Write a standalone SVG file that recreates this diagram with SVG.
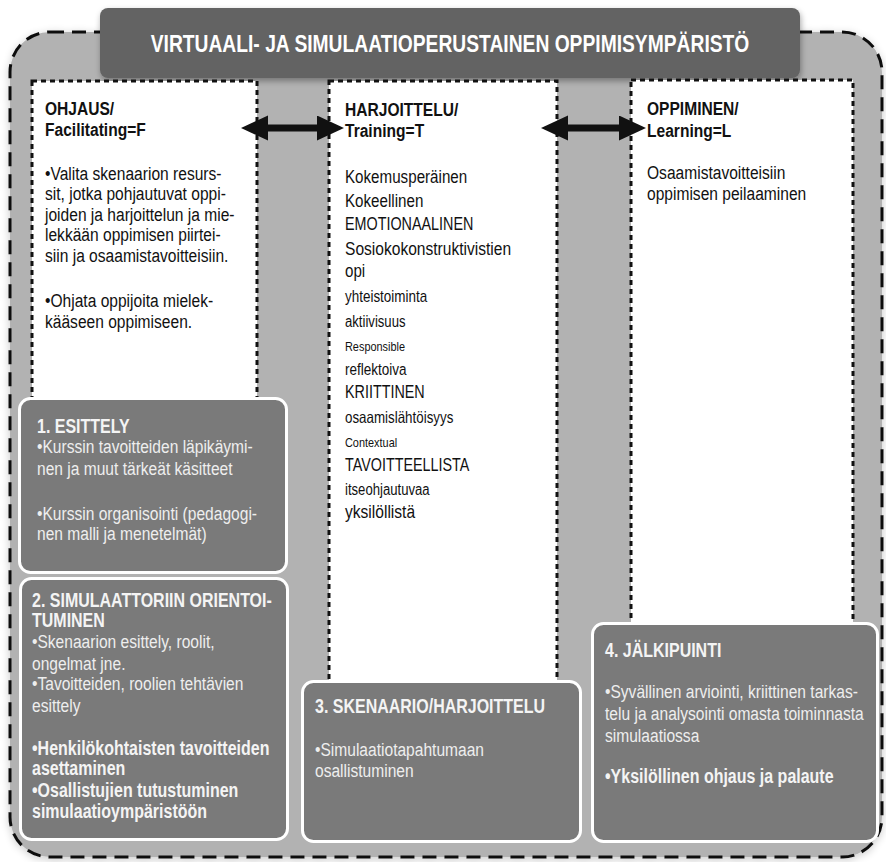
<svg xmlns="http://www.w3.org/2000/svg" width="886" height="862" viewBox="0 0 886 862">
<defs>
<style>
text{font-family:'Liberation Sans',Arial,sans-serif;}
.h{font-weight:bold;font-size:19px;fill:#111;}
.b{font-size:19px;fill:#111;}
.wh{font-weight:bold;font-size:19.5px;fill:#f4f4f4;}
.wb{font-size:19px;fill:#eeeeee;}
.col{fill:#ffffff;stroke:#111;stroke-width:3;stroke-dasharray:5 4;}
.step{fill:#7a7a7a;stroke:#ffffff;stroke-width:3;}
.arrow{stroke:#111;stroke-width:7;fill:none;marker-start:url(#ah);marker-end:url(#ah);}
</style>
<marker id="ah" markerUnits="userSpaceOnUse" markerWidth="28" markerHeight="26" refX="6" refY="12.5" orient="auto-start-reverse" viewBox="0 0 28 26">
<path d="M0,0 L27,12.5 L0,25 z" fill="#111"/>
</marker>
<filter id="sh" x="-10%" y="-20%" width="120%" height="150%">
<feGaussianBlur in="SourceAlpha" stdDeviation="3"/>
<feOffset dx="1" dy="3" result="o"/>
<feComponentTransfer><feFuncA type="linear" slope="0.35"/></feComponentTransfer>
<feMerge><feMergeNode/><feMergeNode in="SourceGraphic"/></feMerge>
</filter>
<filter id="sh2" x="-5%" y="-5%" width="110%" height="110%">
<feGaussianBlur in="SourceAlpha" stdDeviation="4"/>
<feOffset dx="0" dy="2" result="o"/>
<feComponentTransfer><feFuncA type="linear" slope="0.2"/></feComponentTransfer>
<feMerge><feMergeNode/><feMergeNode in="SourceGraphic"/></feMerge>
</filter>
</defs>
<rect width="886" height="862" fill="#ffffff"/>

<g id="frame">
<rect x="10" y="32" width="872" height="825" rx="40" fill="#b2b2b2" stroke="#111" stroke-width="3" stroke-dasharray="14 8" filter="url(#sh2)"/>
</g>

<g id="title">
<rect x="100" y="8" width="700" height="70" rx="8" fill="#636363" filter="url(#sh)"/>
<g transform="translate(450,0) scale(0.82,1)">
<text x="0" y="52" text-anchor="middle" style="font-weight:bold;font-size:23.5px;fill:#ffffff;">VIRTUAALI- JA SIMULAATIOPERUSTAINEN OPPIMISYMPÄRISTÖ</text>
</g>
</g>

<g id="col-ohjaus">
<rect class="col" x="32" y="81" width="225" height="340"/>
<g transform="translate(45,0) scale(0.82,1)">
<text class="h" x="0" y="115">OHJAUS/</text>
<text class="h" x="0" y="136">Facilitating=F</text>
<text class="b" x="0" y="180">•Valita skenaarion resurs-</text>
<text class="b" x="0" y="200.5">sit, jotka pohjautuvat oppi-</text>
<text class="b" x="0" y="221">joiden ja harjoittelun ja mie-</text>
<text class="b" x="0" y="241.5">lekkään oppimisen piirtei-</text>
<text class="b" x="0" y="262">siin ja osaamistavoitteisiin.</text>
<text class="b" x="0" y="307">•Ohjata oppijoita mielek-</text>
<text class="b" x="0" y="328">kääseen oppimiseen.</text>
</g>
</g>

<g id="col-harjoittelu">
<rect class="col" x="329" y="81" width="228" height="620"/>
<g transform="translate(345,0) scale(0.82,1)">
<text class="h" x="0" y="116">HARJOITTELU/</text>
<text class="h" x="0" y="137">Training=T</text>
<text class="b" x="0" y="183" style="font-size:18.5px">Kokemusperäinen</text>
<text class="b" x="0" y="207" style="font-size:18.5px">Kokeellinen</text>
<text class="b" x="0" y="230" style="font-size:17.5px">EMOTIONAALINEN</text>
<text class="b" x="0" y="255" style="font-size:19px">Sosiokokonstruktivistien</text>
<text class="b" x="0" y="277" style="font-size:18.5px">opi</text>
<text class="b" x="0" y="302" style="font-size:16.4px">yhteistoiminta</text>
<text class="b" x="0" y="327" style="font-size:16px">aktiivisuus</text>
<text class="b" x="0" y="351" style="font-size:13.3px">Responsible</text>
<text class="b" x="0" y="375" style="font-size:16.5px">reflektoiva</text>
<text class="b" x="0" y="398" style="font-size:17.5px">KRIITTINEN</text>
<text class="b" x="0" y="423" style="font-size:16.3px">osaamislähtöisyys</text>
<text class="b" x="0" y="447" style="font-size:13.3px">Contextual</text>
<text class="b" x="0" y="471" style="font-size:17.5px">TAVOITTEELLISTA</text>
<text class="b" x="0" y="495" style="font-size:16px">itseohjautuvaa</text>
<text class="b" x="0" y="518" style="font-size:19px">yksilöllistä</text>
</g>
</g>

<g id="col-oppiminen">
<rect class="col" x="631" y="80" width="222" height="560"/>
<g transform="translate(647,0) scale(0.82,1)">
<text class="h" x="0" y="115">OPPIMINEN/</text>
<text class="h" x="0" y="137">Learning=L</text>
<text class="b" x="0" y="179">Osaamistavoitteisiin</text>
<text class="b" x="0" y="200">oppimisen peilaaminen</text>
</g>
</g>

<g id="connectors">
<line class="arrow" x1="262" y1="128" x2="323" y2="128"/>
<line class="arrow" x1="562" y1="128" x2="625" y2="128"/>
</g>

<g id="step1">
<rect class="step" x="19.5" y="398.5" width="267" height="174" rx="11"/>
<g transform="translate(37,0) scale(0.82,1)">
<text class="wh" x="0" y="433">1. ESITTELY</text>
<text class="wb" x="0" y="453">•Kurssin tavoitteiden läpikäymi-</text>
<text class="wb" x="0" y="475">nen ja muut tärkeät käsitteet</text>
<text class="wb" x="0" y="520">•Kurssin organisointi (pedagogi-</text>
<text class="wb" x="0" y="540">nen malli ja menetelmät)</text>
</g>
</g>

<g id="step2">
<rect class="step" x="20.5" y="578.5" width="267" height="261" rx="11"/>
<g transform="translate(32,0) scale(0.82,1)">
<text class="wh" x="0" y="607">2. SIMULAATTORIIN ORIENTOI-</text>
<text class="wh" x="0" y="627">TUMINEN</text>
<text class="wb" x="0" y="648">•Skenaarion esittely, roolit,</text>
<text class="wb" x="0" y="670">ongelmat jne.</text>
<text class="wb" x="0" y="690">•Tavoitteiden, roolien tehtävien</text>
<text class="wb" x="0" y="712">esittely</text>
<text class="wh" x="0" y="755">•Henkilökohtaisten tavoitteiden</text>
<text class="wh" x="0" y="775">asettaminen</text>
<text class="wh" x="0" y="797">•Osallistujien tutustuminen</text>
<text class="wh" x="0" y="818">simulaatioympäristöön</text>
</g>
</g>

<g id="step3">
<rect class="step" x="302.5" y="681.5" width="278" height="160" rx="11"/>
<g transform="translate(315,0) scale(0.82,1)">
<text class="wh" x="0" y="713">3. SKENAARIO/HARJOITTELU</text>
<text class="wb" x="0" y="756">•Simulaatiotapahtumaan</text>
<text class="wb" x="0" y="777">osallistuminen</text>
</g>
</g>

<g id="step4">
<rect class="step" x="592.5" y="623.5" width="285" height="218" rx="11"/>
<g transform="translate(605,0) scale(0.82,1)">
<text class="wh" x="0" y="657">4. JÄLKIPUINTI</text>
<text class="wb" x="0" y="698">•Syvällinen arviointi, kriittinen tarkas-</text>
<text class="wb" x="0" y="720">telu ja analysointi omasta toiminnasta</text>
<text class="wb" x="0" y="742">simulaatiossa</text>
<text class="wh" x="0" y="783">•Yksilöllinen ohjaus ja palaute</text>
</g>
</g>
</svg>
